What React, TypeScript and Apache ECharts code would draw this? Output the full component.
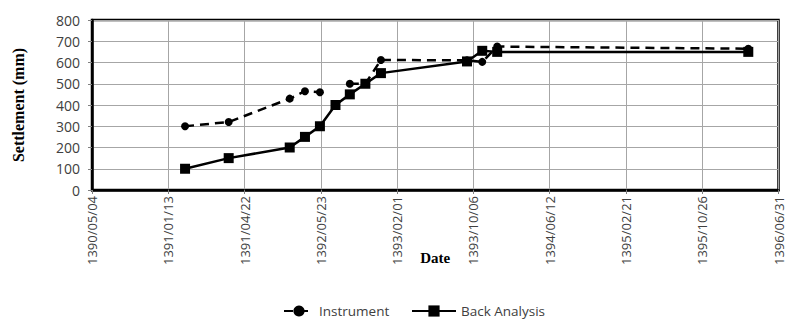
import React, { useEffect, useRef } from "react";
import * as echarts from "echarts";

// Date axis ticks (Persian calendar), spaced every 250 days from 1390/05/04
const tickLabels = [
  "1390/05/04",
  "1391/01/13",
  "1391/04/22",
  "1392/05/23",
  "1393/02/01",
  "1393/10/06",
  "1394/06/12",
  "1395/02/21",
  "1395/10/26",
  "1396/06/31",
];
const tickStepDays = 250;

// Reading dates, as days after 1390/05/04
const instrumentDays = [305, 448, 648, 698, 747, 798, 845, 896, 947, 1229, 1279, 1328, 2151];
// Measured settlement (mm); "-" marks a day with no reading
const instrumentSettlement: (number | string)[] = [300, 320, 430, 465, 460, "-", 500, 500, 612, 610, 603, 675, 665];

const backAnalysisDays = [305, 448, 648, 698, 747, 798, 845, 896, 947, 1229, 1279, 1328, 2151];
// Back-analysed settlement (mm)
const backAnalysisSettlement = [100, 150, 200, 250, 300, 400, 450, 500, 550, 605, 655, 650, 650];

const toPairs = (xs: number[], ys: (number | string)[]) => xs.map((x, i) => [x, ys[i]]);

export default function App() {
  const ref = useRef<HTMLDivElement>(null);

  useEffect(() => {
    if (!ref.current) return;
    const chart = echarts.init(ref.current, undefined, { renderer: "svg" });
    const labelFont = "'Open Sans', 'Noto Sans', sans-serif";
    const titleFont = "'Liberation Serif', 'DejaVu Serif', serif";
    const legendText = { fontSize: 13.5, fontFamily: labelFont, color: "#404040" };
    chart.setOption({
      animation: false,
      backgroundColor: "#ffffff",
      grid: {
        left: 92,
        right: 3,
        top: 20,
        bottom: 130,
        show: true,
        borderColor: "#000",
        borderWidth: 2.5,
      },
      xAxis: {
        type: "value",
        min: 0,
        max: tickStepDays * (tickLabels.length - 1),
        interval: tickStepDays,
        name: "Date",
        nameLocation: "middle",
        nameGap: 60,
        nameMoveOverlap: false,
        nameTextStyle: {
          fontFamily: titleFont,
          fontWeight: "bold",
          fontSize: 15,
          color: "#000",
        },
        axisLine: { show: true, lineStyle: { color: "#000", width: 2.5 } },
        axisTick: { show: true, length: 4, lineStyle: { color: "#808080", width: 1 } },
        axisLabel: {
          rotate: 90,
          margin: 6,
          fontSize: 13,
          fontFamily: labelFont,
          color: "#404040",
          formatter: (v: number) => tickLabels[Math.round(v / tickStepDays)] ?? "",
        },
        splitLine: { show: true, lineStyle: { color: "#a6a6a6", width: 1 } },
      },
      yAxis: {
        type: "value",
        min: 0,
        max: 800,
        interval: 100,
        name: "Settlement (mm)",
        nameLocation: "middle",
        nameGap: 66,
        nameMoveOverlap: false,
        nameTextStyle: {
          fontFamily: titleFont,
          fontWeight: "bold",
          fontSize: 16,
          color: "#000",
        },
        axisLine: { show: true, lineStyle: { color: "#000", width: 2.5 } },
        axisTick: { show: true, length: 4, lineStyle: { color: "#808080", width: 1 } },
        axisLabel: {
          margin: 12,
          fontSize: 14,
          fontFamily: labelFont,
          color: "#404040",
        },
        splitLine: { show: true, lineStyle: { color: "#a6a6a6", width: 1 } },
      },
      legend: [
        {
          top: 299,
          left: 278,
          padding: 5,
          itemWidth: 30,
          itemHeight: 14,
          textStyle: legendText,
          data: ["Instrument"],
        },
        {
          top: 299,
          left: 406,
          padding: 5,
          itemWidth: 44,
          itemHeight: 14,
          textStyle: legendText,
          data: ["Back Analysis"],
        },
      ],
      series: [
        {
          name: "Instrument",
          type: "line",
          data: toPairs(instrumentDays, instrumentSettlement),
          connectNulls: false,
          symbol: "circle",
          symbolSize: 8,
          itemStyle: { color: "#000" },
          lineStyle: { color: "#000", width: 2.5, type: [9, 6] },
        },
        {
          name: "Back Analysis",
          type: "line",
          data: toPairs(backAnalysisDays, backAnalysisSettlement),
          symbol: "rect",
          symbolSize: 10,
          itemStyle: { color: "#000" },
          lineStyle: { color: "#000", width: 2.5 },
        },
      ],
    });
    return () => chart.dispose();
  }, []);

  return (
    <div
      ref={ref}
      style={{ position: "fixed", left: 0, top: 0, width: 785, height: 320, background: "#fff" }}
    />
  );
}
